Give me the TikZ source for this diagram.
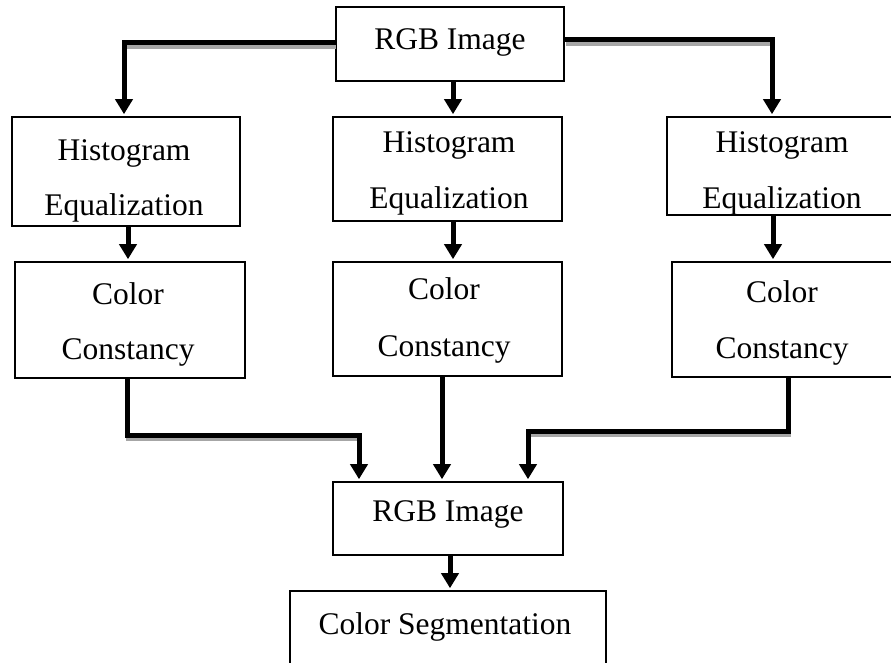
\documentclass[tikz,border=0pt]{standalone}
\usepackage{fontspec}
\setmainfont{Liberation Serif}
\usetikzlibrary{arrows.meta}
\begin{document}
\begin{tikzpicture}[x=1pt,y=-1pt,
  box/.style={draw, line width=1.6pt, inner sep=0pt, rectangle},
  txt/.style={anchor=base, inner sep=0pt, font=\fontsize{31.5}{36}\selectfont},
  arr/.style={line width=5pt, -{Triangle[width=17pt,length=15pt]}, shorten >=2pt},
  shad/.style={line width=4pt, draw=gray!70, shorten >=16pt, transform canvas={xshift=1pt,yshift=-4pt}}]
\useasboundingbox (0,0) rectangle (891,663);
\clip (0,0) rectangle (891,663);
% boxes
\node[box, minimum width=228pt, minimum height=74pt] (top) at (450,44) {};
\node[box, minimum width=228pt, minimum height=109pt] (h1) at (126,171.5) {};
\node[box, minimum width=229pt, minimum height=104pt] (h2) at (447.5,169) {};
\node[box, minimum width=230pt, minimum height=98pt] (h3) at (782,166) {};
\node[box, minimum width=230pt, minimum height=116pt] (c1) at (130,320) {};
\node[box, minimum width=229pt, minimum height=114pt] (c2) at (447.5,319) {};
\node[box, minimum width=220pt, minimum height=115pt] (c3) at (782,319.5) {};
\node[box, minimum width=230pt, minimum height=73pt] (bot) at (448,518.5) {};
\node[box, minimum width=316pt, minimum height=109pt] (seg) at (448,645.5) {};
% texts
\node[txt] (topt) at (450,50) {RGB Image};
\node[txt] (h1a) at (124,161) {Histogram};
\node[txt] (h1b) at (124,215) {Equalization};
\node[txt] (h2a) at (449,153) {Histogram};
\node[txt] (h2b) at (449,208) {Equalization};
\node[txt] (h3a) at (782,153) {Histogram};
\node[txt] (h3b) at (782,208) {Equalization};
\node[txt] (c1a) at (128,304) {Color};
\node[txt] (c1b) at (128,359) {Constancy};
\node[txt] (c2a) at (444,299) {Color};
\node[txt] (c2b) at (444,356) {Constancy};
\node[txt] (c3a) at (782,302) {Color};
\node[txt] (c3b) at (782,358) {Constancy};
\node[txt] (bott) at (448,521) {RGB Image};
\node[txt] (segt) at (445,634) {Color Segmentation};
% junction coordinates
\coordinate (l1) at (124,43);
\coordinate (r1) at (772,40);
\coordinate (l2) at (127,435);
\coordinate (l3) at (359,435);
\coordinate (r2) at (788,431);
\coordinate (r3) at (528,431);
% shadows
\draw[shad] (top.west |- l1) -- (l1) -- (l1 |- h1.north);
\draw[shad] (top.east |- r1) -- (r1) -- (r1 |- h3.north);
\draw[shad] (l2 |- c1.south) -- (l2) -- (l3) -- (l3 |- bot.north);
\draw[shad] (r2 |- c3.south) -- (r2) -- (r3) -- (r3 |- bot.north);
% connectors
\draw[arr] (top.west |- l1) -- (l1) -- (l1 |- h1.north);
\draw[arr] (top.east |- r1) -- (r1) -- (r1 |- h3.north);
\draw[arr] ([xshift=3pt]top.south) -- ([xshift=3pt]top.south |- h2.north);
\draw[arr] ([xshift=2pt]h1.south) -- ([xshift=2pt]h1.south |- c1.north);
\draw[arr] ([xshift=5.5pt]h2.south) -- ([xshift=5.5pt]h2.south |- c2.north);
\draw[arr] ([xshift=-9pt]h3.south) -- ([xshift=-9pt]h3.south |- c3.north);
\draw[arr] (l2 |- c1.south) -- (l2) -- (l3) -- (l3 |- bot.north);
\draw[arr] ([xshift=-5.5pt]c2.south) -- ([xshift=-5.5pt]c2.south |- bot.north);
\draw[arr] (r2 |- c3.south) -- (r2) -- (r3) -- (r3 |- bot.north);
\draw[arr] ([xshift=2pt]bot.south) -- ([xshift=2pt]bot.south |- seg.north);
\end{tikzpicture}
\end{document}
